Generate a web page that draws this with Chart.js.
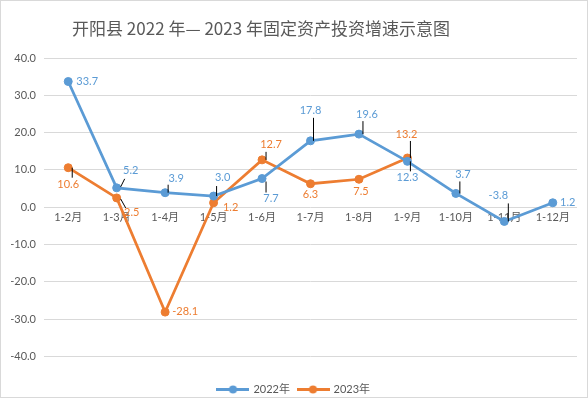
<!DOCTYPE html>
<html lang="zh">
<head>
<meta charset="utf-8">
<title>开阳县固定资产投资增速示意图</title>
<script src="https://cdn.jsdelivr.net/npm/chart.js@4.4.1/dist/chart.umd.min.js"></script>
<style>
  html, body { margin: 0; padding: 0; background: #fff; }
</style>
</head>
<body>
<canvas id="investChart" width="588" height="398"></canvas>
<script>
// Chart data
const chartTitle = '开阳县 2022 年— 2023 年固定资产投资增速示意图';
const months = ['1-2月', '1-3月', '1-4月', '1-5月', '1-6月', '1-7月', '1-8月', '1-9月', '1-10月', '1-11月', '1-12月'];
const seriesNames = ['2022年', '2023年'];
const growth2022 = [33.7, 5.2, 3.9, 3.0, 7.7, 17.8, 19.6, 12.3, 3.7, -3.8, 1.2];
const growth2023 = [10.6, 2.5, -28.1, 1.2, 12.7, 6.3, 7.5, 13.2, null, null, null];
const yMin = -40;
const yMax = 40;
const yStep = 10;

const FONT = 'Lato, "Noto Sans CJK SC", sans-serif';
const TITLE_FONT = '"Noto Sans CJK SC", sans-serif';
const TEXT_COLOR = '#595959';
const GRID_COLOR = '#d9d9d9';
const colors = ['#5b9bd5', '#ed7d31'];

// label placement: [dx, dy, leader [x1, y1, x2, y2] relative to the point]
const labelPlaces = [
    [
        [19, 0, null],
        [14, -17, [4, -1, 8, -9]],
        [11, -14, [3, -8, 3, 0]],
        [9, -19, [3, -10, 3, 0]],
        [9, 20, [4, 3, 4, 14]],
        [0, -30, [3, -23, 3, 0]],
        [8, -20, [4, -13, 4, 0]],
        [0, 16, [3, 0, 3, 10]],
        [7, -19, [4, -12, 4, 0]],
        [-6, -26, [4, -18, 4, 0]],
        [15, 0, null]
    ],
    [
        [0, 17, [4, 0, 4, 10]],
        [15, 15, [4, 1, 9, 10]],
        [20, -1, null],
        [17, 5, null],
        [9, -15, [4, -8, 4, 0]],
        [0, 11, null],
        [2, 12, null],
        [-1, -24, [3, -17, 3, 0]]
    ]
];

function legendMarker(color) {
    const c = document.createElement('canvas');
    c.width = 33;
    c.height = 9;
    const g = c.getContext('2d');
    g.strokeStyle = color;
    g.lineWidth = 3;
    g.beginPath();
    g.moveTo(0, 4.5);
    g.lineTo(33, 4.5);
    g.stroke();
    g.fillStyle = color;
    g.beginPath();
    g.arc(16.5, 4.5, 4, 0, Math.PI * 2);
    g.fill();
    return c;
}
const markers = colors.map(legendMarker);

// Frame and title
const frameAndTitle = {
    id: 'frameAndTitle',
    beforeDraw(chart) {
        const ctx = chart.ctx;
        ctx.save();
        ctx.fillStyle = '#fff';
        ctx.fillRect(0, 0, chart.width, chart.height);
        ctx.strokeStyle = GRID_COLOR;
        ctx.lineWidth = 1;
        ctx.strokeRect(0.5, 0.5, chart.width - 1, chart.height - 1);
        ctx.font = '17px ' + TITLE_FONT;
        ctx.fillStyle = TEXT_COLOR;
        ctx.textAlign = 'center';
        ctx.textBaseline = 'middle';
        ctx.fillText(chartTitle, 261, 29);
        ctx.restore();
    }
};

// Data labels with leader lines
const pointLabels = {
    id: 'pointLabels',
    afterDatasetsDraw(chart) {
        const ctx = chart.ctx;
        ctx.save();
        ctx.font = '11px ' + FONT;
        ctx.textAlign = 'center';
        ctx.textBaseline = 'middle';
        chart.data.datasets.forEach(function(ds, i) {
            const meta = chart.getDatasetMeta(i);
            meta.data.forEach(function(pt, j) {
                const v = ds.data[j];
                const p = labelPlaces[i][j];
                if (v === null || !p) return;
                if (p[2]) {
                    ctx.strokeStyle = '#000';
                    ctx.lineWidth = 1;
                    ctx.beginPath();
                    ctx.moveTo(pt.x + p[2][0], pt.y + p[2][1]);
                    ctx.lineTo(pt.x + p[2][2], pt.y + p[2][3]);
                    ctx.stroke();
                }
                ctx.fillStyle = colors[i];
                ctx.fillText(v.toFixed(1), pt.x + p[0], pt.y + p[1]);
            });
        });
        ctx.restore();
    }
};

function makeDataset(label, data, color) {
    return {
        label: label,
        data: data,
        borderColor: color,
        backgroundColor: color,
        borderWidth: 2.75,
        pointRadius: 4,
        pointHoverRadius: 4,
        pointBorderWidth: 1,
        pointStyle: 'circle',
        tension: 0,
        spanGaps: false
    };
}

new Chart(document.getElementById('investChart'), {
    type: 'line',
    data: {
        labels: months,
        datasets: [
            makeDataset(seriesNames[0], growth2022, colors[0]),
            makeDataset(seriesNames[1], growth2023, colors[1])
        ]
    },
    options: {
        responsive: false,
        animation: false,
        layout: {
            padding: { left: 11, right: 11, top: 58, bottom: -7 }
        },
        scales: {
            x: {
                position: { y: 0 },
                offset: true,
                grid: { display: false, drawTicks: false },
                border: { display: false },
                ticks: {
                    color: TEXT_COLOR,
                    font: { family: FONT, size: 11 },
                    padding: 4,
                    maxRotation: 0,
                    autoSkip: false
                }
            },
            y: {
                min: yMin,
                max: yMax,
                afterFit(scale) { scale.width = 33; },
                grid: { color: GRID_COLOR, drawTicks: false },
                border: { display: false },
                ticks: {
                    stepSize: yStep,
                    padding: 8,
                    color: TEXT_COLOR,
                    font: { family: FONT, size: 11 },
                    callback: function(v) { return Number(v).toFixed(1); }
                }
            }
        },
        plugins: {
            title: { display: false },
            tooltip: { enabled: false },
            legend: {
                position: 'bottom',
                title: {
                    display: true,
                    text: ' ',
                    font: { size: 10 },
                    padding: { top: 0, bottom: 7.5 }
                },
                labels: {
                    usePointStyle: true,
                    pointStyleWidth: 30,
                    boxHeight: 9,
                    padding: 8,
                    color: TEXT_COLOR,
                    font: { family: FONT, size: 11 },
                    generateLabels: function(chart) {
                        return Chart.defaults.plugins.legend.labels.generateLabels(chart).map(function(l, i) {
                            l.pointStyle = markers[i];
                            return l;
                        });
                    }
                }
            }
        }
    },
    plugins: [frameAndTitle, pointLabels]
});
</script>
</body>
</html>
